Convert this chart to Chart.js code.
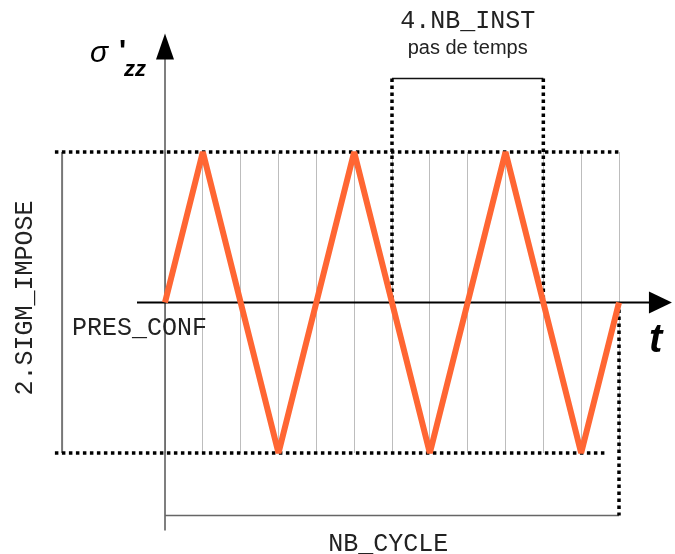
<!DOCTYPE html>
<html>
<head>
<meta charset="utf-8">
<script src="https://cdn.jsdelivr.net/npm/chart.js@4/dist/chart.umd.min.js"></script>
<style>
  html, body { margin: 0; background: #fff; }
  #wrap { width: 675px; height: 554px; }
</style>
</head>
<body>
<div id="wrap"><canvas id="chart"></canvas></div>
<script>
// time steps (pas de temps) and the imposed stress at each corner of the wave
const steps = [0, 1, 3, 5, 7, 9, 11, 12];
const sigma = [0, 1, -1, 1, -1, 1, -1, 0];
// one cycle = 4 steps, 3 cycles
const nbInst = 4;
const nbCycle = 3;
const boxStart = 6;

const labelInst = '4.NB_INST';
const labelPas = 'pas de temps';
const labelPres = 'PRES_CONF';
const labelCycle = 'NB_CYCLE';
const labelSigm = '2.SIGM_IMPOSE';

const mono = '"Liberation Mono", "DejaVu Sans Mono", monospace';
const sans = '"Liberation Sans", Arial, sans-serif';

function seg(ctx, x1, y1, x2, y2) {
  ctx.beginPath();
  ctx.moveTo(x1, y1);
  ctx.lineTo(x2, y2);
  ctx.stroke();
}

const schema = {
  id: 'schema',
  beforeDatasetsDraw(chart) {
    const { ctx, scales: { x, y } } = chart;
    const X = v => x.getPixelForValue(v);
    const Y = v => y.getPixelForValue(v);
    const tEnd = nbInst * nbCycle;
    ctx.save();

    // left bracket for 2.SIGM_IMPOSE
    ctx.strokeStyle = '#777';
    ctx.lineWidth = 2;
    seg(ctx, X(-2.72), Y(1), X(-2.72), Y(-1));

    // vertical axis
    ctx.strokeStyle = '#555';
    ctx.lineWidth = 1.5;
    seg(ctx, X(0), Y(-1.515), X(0), Y(1.62));

    // bottom bracket for NB_CYCLE
    ctx.strokeStyle = '#666';
    seg(ctx, X(0), Y(-1.415), X(tEnd), Y(-1.415));

    // top of the NB_INST box
    ctx.strokeStyle = '#111';
    ctx.lineWidth = 1.5;
    seg(ctx, X(boxStart), Y(1.488), X(boxStart + nbInst), Y(1.488));

    // horizontal axis
    ctx.strokeStyle = '#000';
    ctx.lineWidth = 2;
    seg(ctx, X(-0.74), Y(0), X(12.85), Y(0));

    // dotted lines
    ctx.setLineDash([3.5, 3.5]);
    ctx.lineWidth = 3.5;
    seg(ctx, X(-2.91), Y(1), X(tEnd + 0.03), Y(1));
    seg(ctx, X(-2.91), Y(-1), X(11.68), Y(-1));
    seg(ctx, X(tEnd), Y(0), X(tEnd), Y(-1.415));
    seg(ctx, X(boxStart), Y(1.488), X(boxStart), Y(0));
    seg(ctx, X(boxStart + nbInst), Y(1.488), X(boxStart + nbInst), Y(0));
    ctx.restore();
  },
  afterDraw(chart) {
    const { ctx, scales: { x, y } } = chart;
    const X = v => x.getPixelForValue(v);
    const Y = v => y.getPixelForValue(v);
    ctx.save();
    ctx.fillStyle = '#000';

    // arrow heads
    let ax = X(0), ay = Y(1.787);
    ctx.beginPath();
    ctx.moveTo(ax, ay);
    ctx.lineTo(ax - 9, ay + 26);
    ctx.lineTo(ax + 9, ay + 26);
    ctx.closePath();
    ctx.fill();
    ax = X(13.4); ay = Y(0);
    ctx.beginPath();
    ctx.moveTo(ax, ay);
    ctx.lineTo(ax - 23, ay - 11);
    ctx.lineTo(ax - 23, ay + 11);
    ctx.closePath();
    ctx.fill();

    // texts
    ctx.fillStyle = '#222';
    ctx.textAlign = 'center';
    ctx.font = '25px ' + mono;
    ctx.fillText(labelInst, X(boxStart + nbInst / 2), 28);
    ctx.fillText(labelCycle, X(5.9), 551);
    ctx.font = '20px ' + sans;
    ctx.fillText(labelPas, X(boxStart + nbInst / 2), 54);

    ctx.textAlign = 'left';
    ctx.font = '25px ' + mono;
    ctx.fillText(labelPres, 72, 335);

    ctx.save();
    ctx.translate(32, 298);
    ctx.rotate(-Math.PI / 2);
    ctx.textAlign = 'center';
    ctx.fillText(labelSigm, 0, 0);
    ctx.restore();

    ctx.fillStyle = '#000';
    ctx.font = 'italic bold 40px ' + sans;
    ctx.fillText('t', 649, 352);

    ctx.font = 'italic 30px ' + sans;
    ctx.fillText('σ', 90, 62);
    ctx.font = 'bold 30px ' + sans;
    ctx.fillText('\'', 119, 60);
    ctx.font = 'italic bold 22px ' + sans;
    ctx.fillText('zz', 124, 76);
    ctx.restore();
  }
};

new Chart(document.getElementById('chart'), {
  type: 'line',
  data: {
    datasets: [{
      data: steps.map((s, i) => ({ x: s, y: sigma[i] })),
      borderColor: '#ff6633',
      borderWidth: 6,
      borderJoinStyle: 'bevel',
      pointRadius: 0,
      tension: 0,
      clip: false
    }]
  },
  options: {
    responsive: true,
    maintainAspectRatio: false,
    animation: false,
    layout: { padding: { left: 165, right: 56, top: 152, bottom: 101 } },
    plugins: { legend: { display: false }, tooltip: { enabled: false } },
    scales: {
      x: {
        type: 'linear',
        min: 0,
        max: nbInst * nbCycle,
        ticks: { display: false, stepSize: 1 },
        grid: { color: '#bdbdbd', lineWidth: 1, drawTicks: false },
        border: { display: false }
      },
      y: {
        display: false,
        min: -1,
        max: 1
      }
    }
  },
  plugins: [schema]
});
</script>
</body>
</html>
